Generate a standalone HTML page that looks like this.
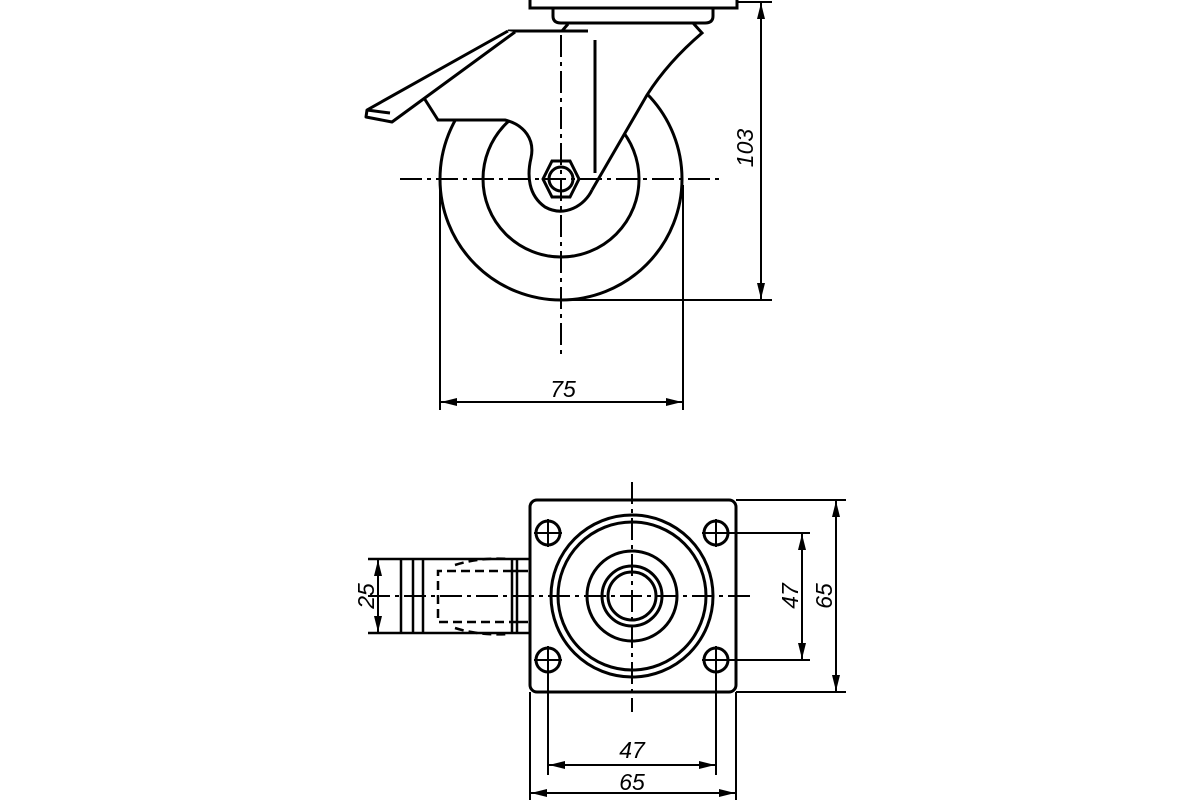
<!DOCTYPE html>
<html><head><meta charset="utf-8"><style>
html,body{margin:0;padding:0;background:#fff}
svg{display:block}
text{font-family:"Liberation Sans",sans-serif;font-style:italic;font-size:23px;fill:#000}
</style></head><body>
<svg width="1200" height="800" viewBox="0 0 1200 800" xmlns="http://www.w3.org/2000/svg">
<defs>
<marker id="a" viewBox="0 0 16 8" refX="16" refY="4" markerWidth="16" markerHeight="8" markerUnits="userSpaceOnUse" orient="auto-start-reverse"><path d="M0,0 L16,4 L0,8 Z" fill="#000"/></marker>
</defs>
<g fill="none" stroke="#000">
<!-- TOP VIEW -->
<circle cx="561" cy="179" r="121" stroke-width="3"/>
<circle cx="561" cy="179" r="78" stroke-width="3"/>
<path d="M424,98 L438,120 L505,120 C525,125 535,140 531,158 C527,175 528,195 545,207 C565,218 585,205 592,190 L647,95 L702,33 L693,23 L568,23 L560,31 L508,31 Z" fill="#fff" stroke="none"/>
<rect x="530" y="-2" width="207" height="10" fill="#fff" stroke-width="3"/>
<path d="M553,8 L553,16 Q553,23 561,23 L705,23 Q713,23 713,16 L713,8" stroke-width="3"/>
<path d="M693,23 L702,33 Q668,62 647,95 L592,190" stroke-width="3"/>
<path d="M424,98 L438,120 L505,120 C525,125 535,140 531,158 C527,175 528,195 545,207 C565,218 585,205 592,190" stroke-width="3"/>
<path d="M568,24 L562,31" stroke-width="3"/>
<path d="M508,31 L588,31" stroke-width="3"/>
<line x1="595" y1="40" x2="595" y2="173" stroke-width="3"/>
<path d="M508,31 L367,110 L366,117 L392,122 L515,32" fill="#fff" stroke-width="3" stroke-linejoin="round"/>
<path d="M367,110 L390,113" stroke-width="3"/>
<polygon points="543,179 552,161 570,161 579,179 570,197 552,197" fill="#fff" stroke-width="3"/>
<circle cx="561" cy="179" r="12" stroke-width="3"/>
<line x1="400" y1="179" x2="722" y2="179" stroke-width="2" stroke-dasharray="22,5,4,5"/>
<line x1="561" y1="35" x2="561" y2="355" stroke-width="2" stroke-dasharray="22,5,4,5"/>
<line x1="737" y1="2" x2="772" y2="2" stroke-width="2"/>
<line x1="561" y1="300" x2="772" y2="300" stroke-width="2"/>
<line x1="761" y1="3" x2="761" y2="299" stroke-width="2" marker-start="url(#a)" marker-end="url(#a)"/>
<line x1="440" y1="185" x2="440" y2="410" stroke-width="2"/>
<line x1="683" y1="185" x2="683" y2="410" stroke-width="2"/>
<line x1="441" y1="402" x2="682" y2="402" stroke-width="2" marker-start="url(#a)" marker-end="url(#a)"/>

<!-- BOTTOM VIEW -->
<rect x="530" y="500" width="206" height="192" rx="7" stroke-width="3"/>
<circle cx="632" cy="596" r="81" stroke-width="3"/>
<circle cx="632" cy="596" r="74" stroke-width="3"/>
<circle cx="632" cy="596" r="45" stroke-width="3"/>
<circle cx="632" cy="596" r="30" stroke-width="3"/>
<circle cx="632" cy="596" r="24" stroke-width="3"/>
<g stroke-width="3">
<circle cx="548" cy="533" r="12"/><circle cx="716" cy="533" r="12"/>
<circle cx="548" cy="660" r="12"/><circle cx="716" cy="660" r="12"/>
</g>
<g stroke-width="2">
<path d="M534,533 H562 M548,519 V547 M702,533 H730 M716,519 V547 M534,660 H562 M548,646 V674 M702,660 H730 M716,646 V674"/>
</g>
<g stroke-width="2.5">
<line x1="368" y1="559" x2="530" y2="559"/>
<line x1="368" y1="633" x2="530" y2="633"/>
<line x1="401" y1="559" x2="401" y2="633"/>
<line x1="413" y1="559" x2="413" y2="633"/>
<line x1="423" y1="559" x2="423" y2="633"/>
<line x1="512" y1="559" x2="512" y2="633"/>
<line x1="517" y1="559" x2="517" y2="633"/>
<line x1="512" y1="571" x2="528" y2="571"/>
<line x1="512" y1="622" x2="528" y2="622"/>
</g>
<path d="M512,571 H438 V622 H512" stroke-width="2.5" stroke-dasharray="9,5"/>
<path d="M455,565 Q480,557 510,559 M455,628 Q480,636 510,634" stroke-width="2.5" stroke-dasharray="9,5"/>
<line x1="368" y1="596" x2="752" y2="596" stroke-width="2" stroke-dasharray="22,5,4,5"/>
<line x1="632" y1="482" x2="632" y2="712" stroke-width="2" stroke-dasharray="22,5,4,5"/>
<line x1="378" y1="560" x2="378" y2="632" stroke-width="2" marker-start="url(#a)" marker-end="url(#a)"/>
<line x1="716" y1="533" x2="810" y2="533" stroke-width="2"/>
<line x1="716" y1="660" x2="810" y2="660" stroke-width="2"/>
<line x1="802" y1="534" x2="802" y2="659" stroke-width="2" marker-start="url(#a)" marker-end="url(#a)"/>
<line x1="736" y1="500" x2="846" y2="500" stroke-width="2"/>
<line x1="736" y1="692" x2="846" y2="692" stroke-width="2"/>
<line x1="836" y1="501" x2="836" y2="691" stroke-width="2" marker-start="url(#a)" marker-end="url(#a)"/>
<line x1="548" y1="672" x2="548" y2="775" stroke-width="2"/>
<line x1="716" y1="672" x2="716" y2="775" stroke-width="2"/>
<line x1="530" y1="692" x2="530" y2="800" stroke-width="2"/>
<line x1="736" y1="692" x2="736" y2="800" stroke-width="2"/>
<line x1="549" y1="765" x2="715" y2="765" stroke-width="2" marker-start="url(#a)" marker-end="url(#a)"/>
<line x1="531" y1="793" x2="735" y2="793" stroke-width="2" marker-start="url(#a)" marker-end="url(#a)"/>
</g>
<text x="563" y="397" text-anchor="middle">75</text>
<text transform="translate(753,148) rotate(-90)" text-anchor="middle">103</text>
<text transform="translate(374,596) rotate(-90)" text-anchor="middle">25</text>
<text transform="translate(798,596) rotate(-90)" text-anchor="middle">47</text>
<text transform="translate(832,596) rotate(-90)" text-anchor="middle">65</text>
<text x="632" y="758" text-anchor="middle">47</text>
<text x="632" y="790" text-anchor="middle">65</text>
</svg>
</body></html>
